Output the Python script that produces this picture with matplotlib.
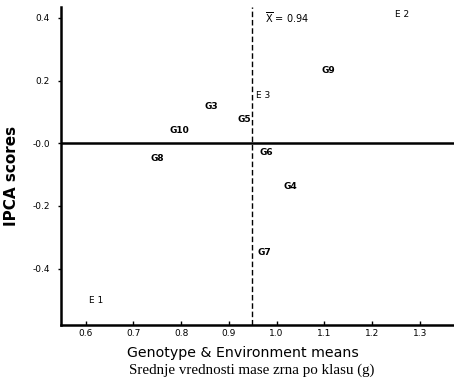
"""AMMI biplot: genotype & environment means vs IPCA scores."""
import matplotlib
matplotlib.use("Agg")
from matplotlib import pyplot as plt

genotypes = ["G3", "G4", "G5", "G6", "G7", "G8", "G9", "G10"]
geno_mean = [0.850, 1.015, 0.919, 0.965, 0.960, 0.736, 1.095, 0.776]
geno_ipca = [0.118, -0.137, 0.077, -0.029, -0.350, -0.048, 0.232, 0.040]

environments = ["E 1", "E 2", "E 3"]
env_mean = [0.608, 1.248, 0.956]
env_ipca = [-0.502, 0.410, 0.153]

grand_mean = 0.948
grand_mean_label = "0.94"
x_ticks = [0.6, 0.7, 0.8, 0.9, 1.0, 1.1, 1.2, 1.3]
y_ticks = [0.4, 0.2, 0.0, -0.2, -0.4]
y_tick_labels = ["0.4", "0.2", "-0.0", "-0.2", "-0.4"]

fig = plt.figure(figsize=(4.54, 3.81), dpi=100)
ax = fig.add_axes([0.134, 0.147, 0.866, 0.835])

ax.set_xlim(0.548, 1.372)
ax.set_ylim(-0.58, 0.435)

ax.axhline(0, color="black", lw=1.8)
ax.axvline(grand_mean, color="black", lw=1.0, ls=(0, (4, 2)))

for name, x, y in zip(genotypes, geno_mean, geno_ipca):
    ax.text(x, y, name, fontsize=6.5, fontweight="bold", ha="left", va="center")
for name, x, y in zip(environments, env_mean, env_ipca):
    ax.text(x, y, name, fontsize=6.5, ha="left", va="center")

ax.text(grand_mean + 0.028, 0.40, r"$\overline{\mathrm{X}}$" + f" = {grand_mean_label}",
        fontsize=7, ha="left", va="center")

ax.set_xticks(x_ticks)
ax.set_xticklabels([f"{t:.1f}" for t in x_ticks], fontsize=6.5)
ax.set_yticks(y_ticks)
ax.set_yticklabels(y_tick_labels, fontsize=6.5)
ax.tick_params(axis="x", direction="in", length=3, width=1, pad=3)
ax.tick_params(axis="y", direction="out", length=2, width=1, pad=6)

for side in ["top", "right"]:
    ax.spines[side].set_visible(False)
for side in ["left", "bottom"]:
    ax.spines[side].set_linewidth(1.8)

fig.text(0.026, 0.538, "IPCA scores", fontsize=11, fontweight="bold",
         rotation=90, ha="center", va="center")
fig.text(0.535, 0.073, "Genotype & Environment means", fontsize=10.2,
         ha="center", va="center")
fig.text(0.555, 0.027, "Srednje vrednosti mase zrna po klasu (g)", fontsize=10.8,
         family="Liberation Serif", ha="center", va="center")

fig.savefig("out.png", dpi=100)
